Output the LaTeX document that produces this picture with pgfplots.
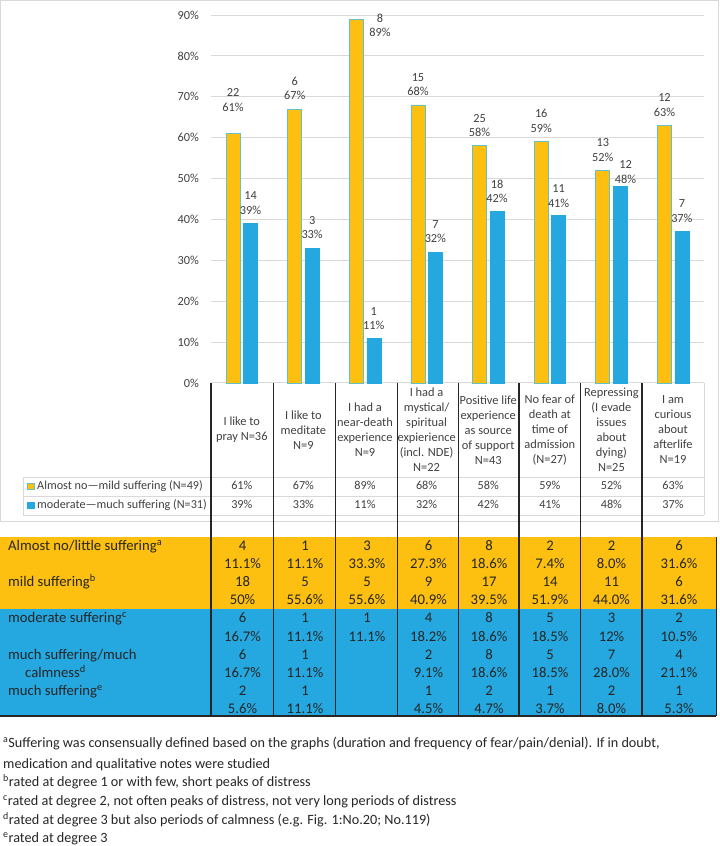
\documentclass[border=0pt]{standalone}
\usepackage{fontspec}
\setmainfont{Carlito}
\usepackage{pgfplots}
\pgfplotsset{compat=1.18}
\definecolor{gold}{HTML}{FDC010}
\definecolor{sky}{HTML}{25A8E0}
\definecolor{rim}{HTML}{62C2C8}
\definecolor{gridc}{HTML}{D9D9D9}
\definecolor{txt}{HTML}{404040}
\definecolor{ink}{HTML}{262626}

\newcommand\fs[2]{\fontsize{#1}{#2}\selectfont}
\tikzset{lab/.style={anchor=south, align=center, inner sep=0pt, font=\fs{12.3}{14.5}, text=txt}}

\begin{document}
\begin{tikzpicture}
\useasboundingbox (0,0) rectangle (720pt,846pt);

% bar chart
\begin{axis}[
  at={(211pt,463pt)}, anchor=south west,
  scale only axis, width=493pt, height=368pt,
  xmin=0.5, xmax=8.5, ymin=0, ymax=90,
  axis line style={draw=none},
  xtick=\empty,
  ytick={0,10,...,90},
  yticklabel={\pgfmathprintnumber{\tick}\%},
  yticklabel style={inner sep=0pt},
  yticklabel shift=12pt,
  major tick length=0pt,
  ymajorgrids, grid style={gridc, line width=1pt},
  tick label style={font=\fs{12.3}{14}, text=txt},
  /pgf/number format/assume math mode=true,
  ybar, bar width=14pt,
  clip=false,
]
\addplot[fill=gold, draw=rim, line width=0.8pt, bar shift=-8.7pt] coordinates {
  (1,61) (2,67) (3,89) (4,68) (5,58) (6,59) (7,52) (8,63)};
\addplot[fill=sky, draw=sky, line width=0.5pt, bar shift=8.7pt] coordinates {
  (1,39) (2,33) (3,11) (4,32) (5,42) (6,41) (7,48) (8,37)};

\node[lab, xshift=-8.7pt, yshift=22pt] at (axis cs:1,61) {22\\61\%};
\node[lab, xshift=-8.7pt, yshift=9pt] at (axis cs:2,67) {6\\67\%};
\node[lab, anchor=center, xshift=15pt, yshift=-6.5pt] at (axis cs:3,89) {8\\89\%};
\node[lab, xshift=-8.7pt, yshift=9pt] at (axis cs:4,68) {15\\68\%};
\node[lab, xshift=-8.7pt, yshift=9pt] at (axis cs:5,58) {25\\58\%};
\node[lab, xshift=-8.7pt, yshift=9pt] at (axis cs:6,59) {16\\59\%};
\node[lab, xshift=-8.7pt, yshift=9pt] at (axis cs:7,52) {13\\52\%};
\node[lab, xshift=-8.7pt, yshift=9pt] at (axis cs:8,63) {12\\63\%};

\node[lab, xshift=8.7pt, yshift=9pt] at (axis cs:1,39) {14\\39\%};
\node[lab, xshift=8.7pt, yshift=9pt] at (axis cs:2,33) {3\\33\%};
\node[lab, xshift=8.7pt, yshift=8pt] at (axis cs:3,11) {1\\11\%};
\node[lab, xshift=8.7pt, yshift=9pt] at (axis cs:4,32) {7\\32\%};
\node[lab, xshift=8.7pt, yshift=8pt] at (axis cs:5,42) {18\\42\%};
\node[lab, xshift=8.7pt, yshift=8pt] at (axis cs:6,41) {11\\41\%};
\node[lab, xshift=14pt, yshift=3pt] at (axis cs:7,48) {12\\48\%};
\node[lab, xshift=8.7pt, yshift=9pt] at (axis cs:8,37) {7\\37\%};
\end{axis}

% frame, data table and the table below, in pixel units from the top left
\begin{scope}[x=1pt, y=-1pt, yshift=846pt]
  \draw[gridc, line width=1pt] (0.5,0.5) rectangle (718,522);
  \draw[gridc, line width=0.8pt] (23,477) -- (704,477) (23,496) -- (704,496)
    (23,515) -- (704,515) (23,477) -- (23,515) (704,383) -- (704,515);

  \fill[gold] (0,537) rectangle (716,609);
  \fill[sky] (0,609) rectangle (716,715);
  \draw[black!85, line width=1.6pt] (0,716) -- (716,716);
  \draw[black!85, line width=1pt] (716,537) -- (716,716);
  \foreach \x in {211,273.5,335.5,397.5,458.5,519,580.5,642}
    \draw[black!85, line width=1.1pt] (\x,383) -- (\x,716);

  % category labels
  \foreach \c [count=\i] in {
      {I like to\\pray N=36},
      {I like to\\meditate\\N=9},
      {I had a\\near-death\\experience\\N=9},
      {I had a\\mystical/\\spiritual\\expierience\\(incl. NDE)\\N=22},
      {Positive life\\experience\\as source\\of support\\N=43},
      {No fear of\\death at\\time of\\admission\\(N=27)},
      {Repressing\\(I evade\\issues\\about\\dying)\\N=25},
      {I am\\curious\\about\\afterlife\\N=19}}
    \node[align=center, inner sep=0pt, font=\fs{12.4}{15}, text=txt]
      at ({211+(\i-0.5)*61.6},430) {\c};

  % legend rows of the data table
  \filldraw[fill=gold, draw=rim, line width=0.8pt] (27.5,483) rectangle (34,489.5);
  \filldraw[fill=sky, draw=sky, line width=0.5pt] (27.5,502) rectangle (34,508.5);
  \begin{scope}[every node/.style={inner sep=0pt, font=\fs{12.2}{14}, text=txt}]
    \node[anchor=base west] at (37,490) {Almost no—mild suffering (N=49)};
    \node[anchor=base west] at (37,509) {moderate—much suffering (N=31)};
    \foreach \v [count=\i] in {61,67,89,68,58,59,52,63}
      \node[anchor=base] at ({211+(\i-0.5)*61.6},490) {\v\%};
    \foreach \v [count=\i] in {39,33,11,32,42,41,48,37}
      \node[anchor=base] at ({211+(\i-0.5)*61.6},509) {\v\%};
  \end{scope}

  % table below the chart
  \begin{scope}[every node/.style={inner sep=0pt, font=\fs{14.7}{17}, text=ink}]
    \node[anchor=base west] at (8,551) {Almost no/little suffering\textsuperscript{a}};
    \node[anchor=base west] at (8,587) {mild suffering\textsuperscript{b}};
    \node[anchor=base west] at (8,623) {moderate suffering\textsuperscript{c}};
    \node[anchor=base west] at (8,659.5) {much suffering/much};
    \node[anchor=base west] at (25,677.5) {calmness\textsuperscript{d}};
    \node[anchor=base west] at (8,695.5) {much suffering\textsuperscript{e}};
    \foreach \cx/\a/\b/\c/\d/\e/\f/\g/\h/\k/\l in {
        242.5/4/11.1\%/18/50\%/6/16.7\%/6/16.7\%/2/5.6\%,
        305/1/11.1\%/5/55.6\%/1/11.1\%/1/11.1\%/1/11.1\%,
        367/3/33.3\%/5/55.6\%/1/11.1\%/{}/{}/{}/{},
        428.5/6/27.3\%/9/40.9\%/4/18.2\%/2/9.1\%/1/4.5\%,
        489/8/18.6\%/17/39.5\%/8/18.6\%/8/18.6\%/2/4.7\%,
        550/2/7.4\%/14/51.9\%/5/18.5\%/5/18.5\%/1/3.7\%,
        611.5/2/8.0\%/11/44.0\%/3/12\%/7/28.0\%/2/8.0\%,
        679/6/31.6\%/6/31.6\%/2/10.5\%/4/21.1\%/1/5.3\%} {
      \node[anchor=base] at (\cx,551) {\a};
      \node[anchor=base] at (\cx,569) {\b};
      \node[anchor=base] at (\cx,587) {\c};
      \node[anchor=base] at (\cx,605) {\d};
      \node[anchor=base] at (\cx,623) {\e};
      \node[anchor=base] at (\cx,641.5) {\f};
      \node[anchor=base] at (\cx,659.5) {\g};
      \node[anchor=base] at (\cx,677.5) {\h};
      \node[anchor=base] at (\cx,695.5) {\k};
      \node[anchor=base] at (\cx,713.5) {\l};
    }
  \end{scope}

  % footnotes
  \begin{scope}[every node/.style={inner sep=0pt, anchor=base west, font=\fs{14.2}{17}, text=ink}]
    \node at (3,748) {\textsuperscript{a}Suffering was consensually defined based on the graphs (duration and frequency of fear/pain/denial). If in doubt,};
    \node at (3,769) {medication and qualitative notes were studied};
    \node at (3,787) {\textsuperscript{b}rated at degree 1 or with few, short peaks of distress};
    \node at (3,806) {\textsuperscript{c}rated at degree 2, not often peaks of distress, not very long periods of distress};
    \node at (3,825) {\textsuperscript{d}rated at degree 3 but also periods of calmness (e.g. Fig. 1:No.20; No.119)};
    \node at (3,843) {\textsuperscript{e}rated at degree 3};
  \end{scope}
\end{scope}
\end{tikzpicture}
\end{document}
